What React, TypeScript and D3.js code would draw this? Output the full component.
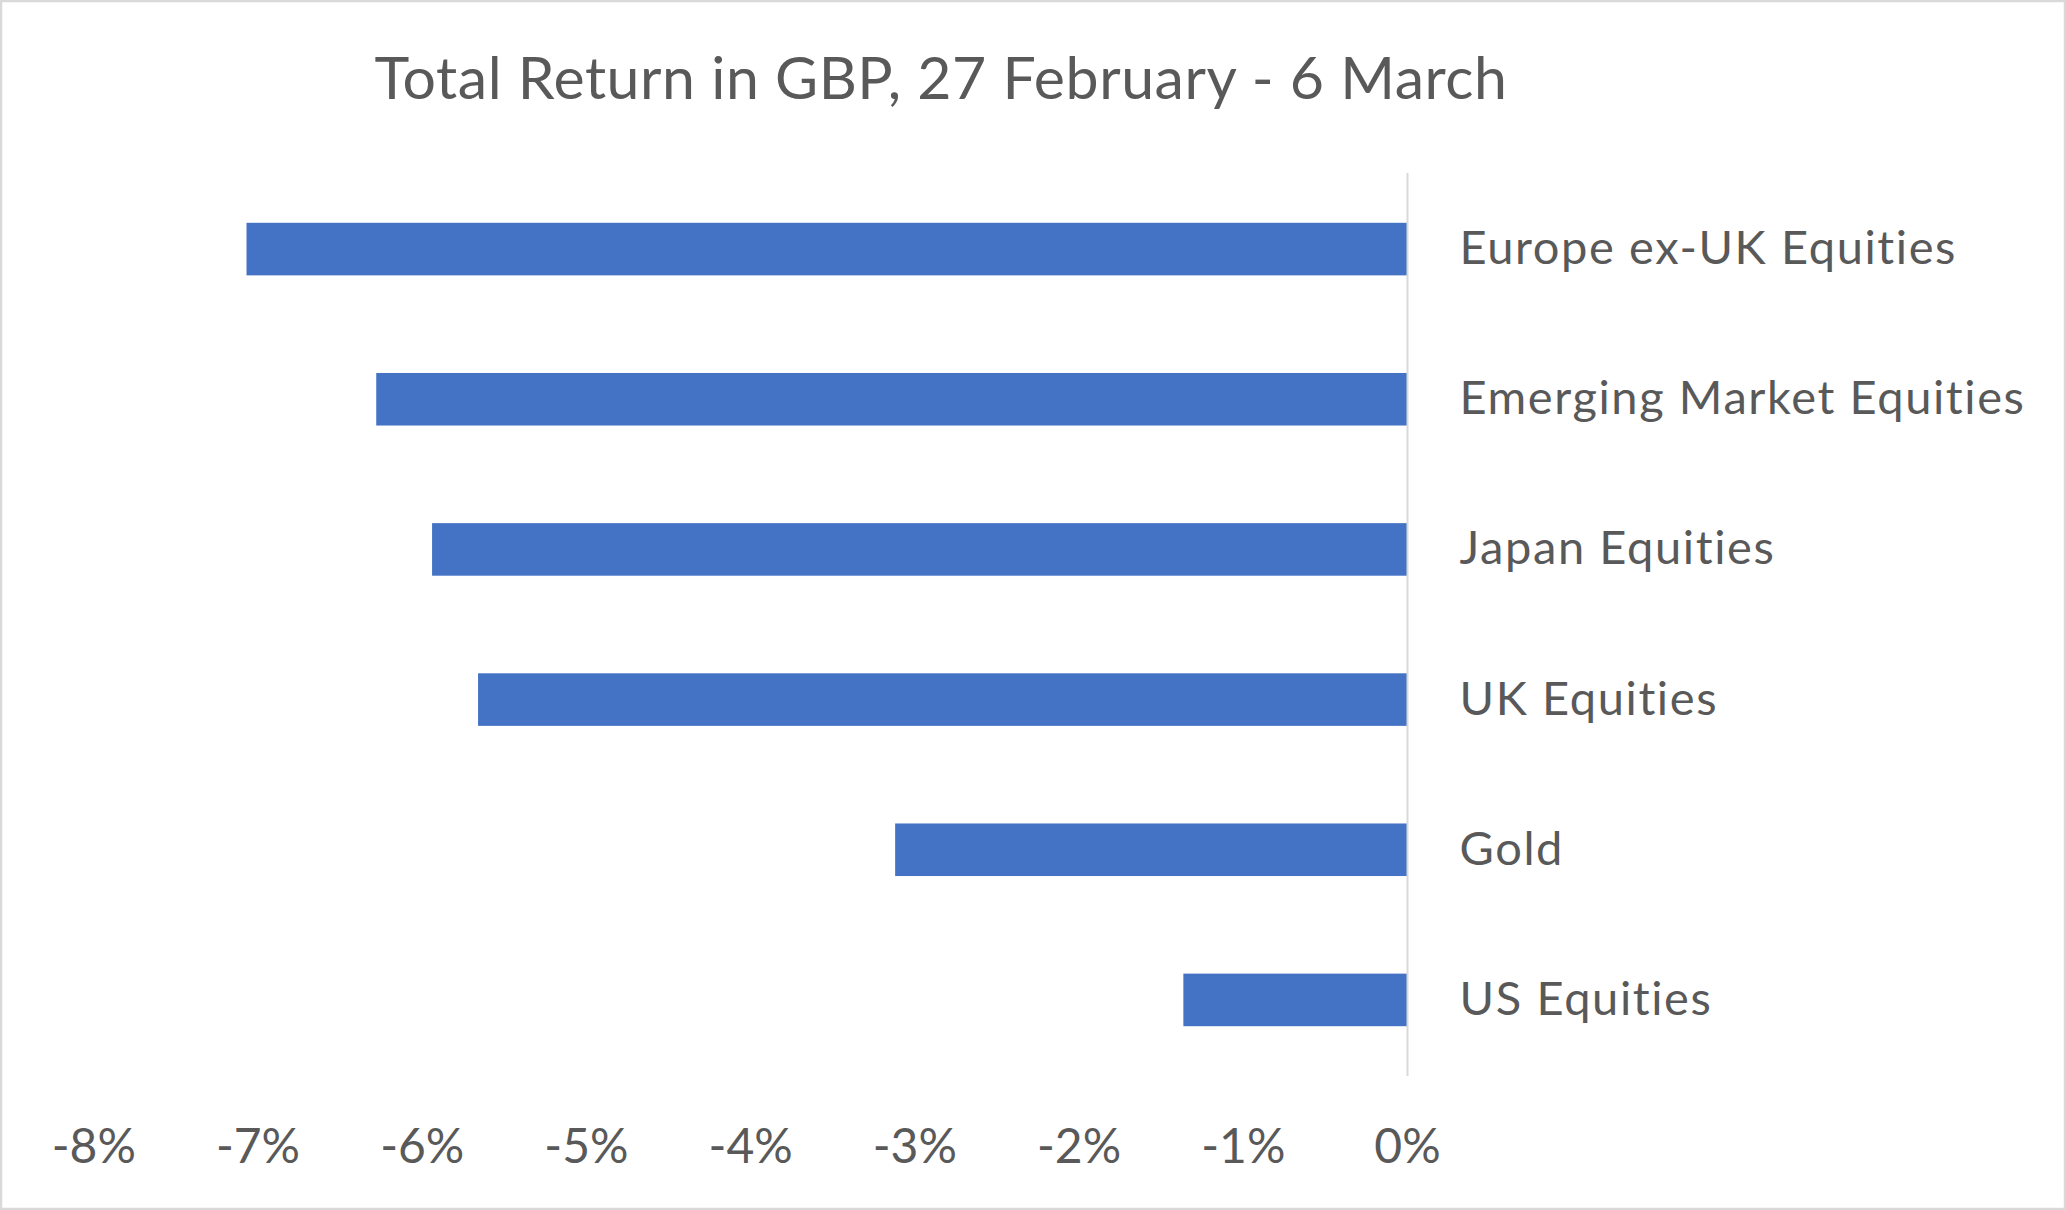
import { useEffect, useRef } from 'react';
import * as d3 from 'd3';

const categories = [
  'Europe ex-UK Equities',
  'Emerging Market Equities',
  'Japan Equities',
  'UK Equities',
  'Gold',
  'US Equities',
];
const returns = [-7.07, -6.28, -5.94, -5.66, -3.12, -1.365];
const tickValues = [-8, -7, -6, -5, -4, -3, -2, -1, 0];

const title = 'Total Return in GBP, 27 February - 6 March';

const W = 2066;
const H = 1210;
const textColor = '#595959';
const barColor = '#4472C4';
const gridColor = '#D9D9D9';
const fontFamily = 'Lato, "Open Sans", sans-serif';

export default function App() {
  const svgRef = useRef<SVGSVGElement>(null);

  useEffect(() => {
    if (!svgRef.current) return;
    const svg = d3.select(svgRef.current);
    svg.selectAll('*').remove();

    svg.append('rect')
      .attr('x', 1).attr('y', 1)
      .attr('width', W - 2).attr('height', H - 2)
      .attr('fill', '#fff')
      .attr('stroke', gridColor)
      .attr('stroke-width', 2.5);

    const x = d3.scaleLinear().domain([-8, 0]).range([93.8, 1407.5]);
    const y = d3.scaleBand<string>()
      .domain(categories)
      .range([174, 1075])
      .paddingInner(0.65)
      .paddingOuter(0.325);

    // title
    svg.append('text')
      .attr('x', 941)
      .attr('y', 99)
      .attr('text-anchor', 'middle')
      .attr('font-family', fontFamily)
      .attr('font-size', 59)
      .attr('letter-spacing', 0.55)
      .attr('fill', textColor)
      .text(title);

    // bars
    svg.append('g')
      .selectAll('rect')
      .data(returns)
      .join('rect')
      .attr('x', (d) => x(d))
      .attr('y', (_, i) => y(categories[i])!)
      .attr('width', (d) => x(0) - x(d))
      .attr('height', y.bandwidth())
      .attr('fill', barColor);

    // zero axis line
    svg.append('line')
      .attr('x1', x(0)).attr('x2', x(0))
      .attr('y1', 173).attr('y2', 1076)
      .attr('stroke', gridColor)
      .attr('stroke-width', 2);

    // category labels to the right of the zero line
    svg.append('g')
      .selectAll('text')
      .data(categories)
      .join('text')
      .attr('x', 1459.5)
      .attr('y', (d) => y(d)! + y.bandwidth() / 2 + 15)
      .attr('font-family', fontFamily)
      .attr('font-size', 47)
      .attr('letter-spacing', 1.6)
      .attr('fill', textColor)
      .text((d) => d);

    // x tick labels
    svg.append('g')
      .selectAll('text')
      .data(tickValues)
      .join('text')
      .attr('x', (d) => x(d))
      .attr('y', 1163)
      .attr('text-anchor', 'middle')
      .attr('font-family', fontFamily)
      .attr('font-size', 48)
      .attr('fill', textColor)
      .text((d) => `${d}%`);
  }, []);

  return (
    <div style={{ position: 'absolute', left: 0, top: 0, width: W, height: H, background: '#fff' }}>
      <svg ref={svgRef} width={W} height={H} />
    </div>
  );
}
